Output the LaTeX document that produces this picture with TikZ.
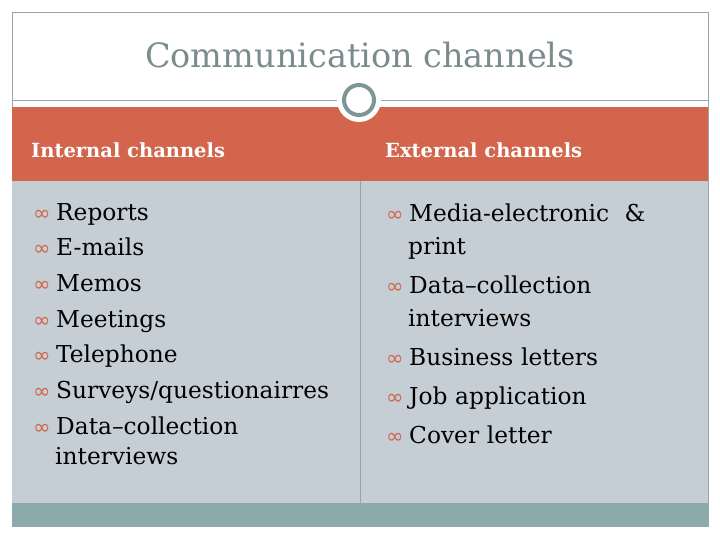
\documentclass[tikz,border=0pt]{standalone}
\usepackage{fontspec}
\setmainfont{DejaVu Serif}
\newfontfamily\bulfont{DejaVu Sans}
\definecolor{hdr}{HTML}{D2654B}
\definecolor{body}{HTML}{C5CED4}
\definecolor{bar}{HTML}{8AAAAB}
\definecolor{ttl}{HTML}{7A8C8C}
\definecolor{ring}{HTML}{7F9697}
\definecolor{framec}{HTML}{9AA4A6}
\newcommand{\bul}{\makebox[23pt][l]{\bulfont\color{hdr}\fontsize{21}{21}\selectfont ∞}}
\tikzset{
 item/.style={anchor=north west,align=left,font=\fontsize{23.3}{35.7}\selectfont,inner sep=0pt,text width=320pt},
 itemr/.style={item,font=\fontsize{23.3}{39}\selectfont},
 head/.style={anchor=west,font=\bfseries\fontsize{19.5}{22}\selectfont,text=white,inner sep=0pt}
}
\begin{document}
\begin{tikzpicture}[x=1pt,y=-1pt]
\useasboundingbox (0,0) rectangle (720,540);
\fill[white] (0,0) rectangle (720,540);
\draw[framec] (12,12) rectangle (708,526);
\node[font=\fontsize{33.5}{36}\selectfont,text=ttl] (title) at (360,55) {Communication channels};
\draw[framec,line width=1pt] (12,101) -- (708,101);
\fill[hdr] (12,107) rectangle (708,181);
\fill[body] (12,181) rectangle (708,503);
\fill[bar] (12,503) rectangle (708,526);
\draw[framec] (360,181) -- (360,503);
\node[circle,fill=white,minimum size=44pt] (cw) at (359,100) {};
\node[circle,draw=ring,line width=4pt,fill=white,minimum size=30pt] (c) at (359,100) {};
\node[head] (h1) at (31,150) {Internal channels};
\node[head] (h2) at (385,150) {External channels};
\node[item] (l) at (33,203) {\bul Reports\\ \bul E-mails\\ \bul Memos\\ \bul Meetings\\ \bul Telephone\\ \bul Surveys/questionairres\\ \bul Data--collection\\[-5.7pt] \hspace*{22pt}interviews};
\node[itemr] (r) at (386,204) {\bul Media-electronic\ \ \&\\[-6pt] \hspace*{22pt}print\\ \bul Data--collection\\[-6pt] \hspace*{22pt}interviews\\ \bul Business letters\\ \bul Job application\\ \bul Cover letter};
\end{tikzpicture}
\end{document}
